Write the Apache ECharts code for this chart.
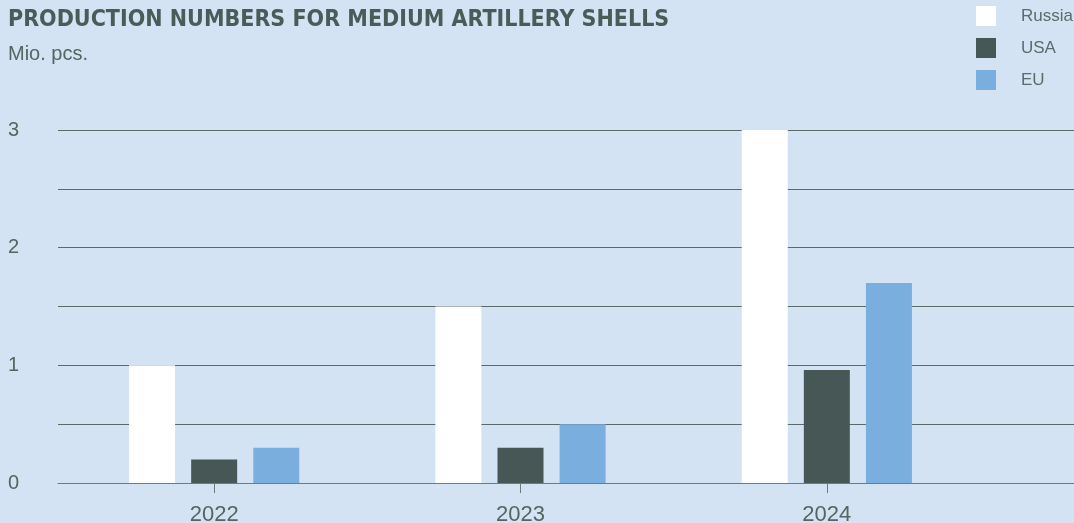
<!DOCTYPE html>
<html><head><meta charset="utf-8">
<script src="https://cdn.jsdelivr.net/npm/echarts@6/dist/echarts.min.js"></script>
<style>html,body{margin:0;padding:0;background:#d3e3f3;}#c{width:1074px;height:523px;}</style>
</head><body><div id="c"></div>
<script>
const categories = ['2022', '2023', '2024'];
const russia = [1.0, 1.5, 3.0];
const usa = [0.2, 0.3, 0.96];
const eu = [0.3, 0.5, 1.7];
const seriesNames = ['Russia', 'USA', 'EU'];
const yTicks = [0, 1, 2, 3];

const TFONT = '"Liberation Sans Narrow", "DejaVu Sans Condensed", "Roboto", sans-serif';
const FONT = '"Liberation Sans", "Roboto", sans-serif';
const chart = echarts.init(document.getElementById('c'));
chart.setOption({
  backgroundColor: '#d3e3f3',
  animation: false,
  title: [
    { text: 'PRODUCTION NUMBERS FOR MEDIUM ARTILLERY SHELLS', left: 8, top: 9, padding: 0,
      textStyle: { fontFamily: TFONT, fontWeight: 'bold', fontSize: 23, color: '#4b5b59' } },
    { text: 'Mio. pcs.', left: 8, top: 44, padding: 0,
      textStyle: { fontFamily: FONT, fontWeight: 'normal', fontSize: 20, color: '#56655f' } }
  ],
  legend: {
    orient: 'vertical', left: 976, top: 6, padding: 0, itemWidth: 20, itemHeight: 20, itemGap: 12,
    icon: 'rect', data: seriesNames,
    textStyle: { fontFamily: FONT, fontSize: 17, color: '#5d6b6a', padding: [2, 0, 0, 20] }
  },
  grid: [
    { left: 61, width: 919, top: 130, bottom: 40, containLabel: false, outerBoundsMode: 'none' },
    { left: 58, right: 0, top: 130, bottom: 40, containLabel: false, outerBoundsMode: 'none' }
  ],
  xAxis: [
    { type: 'category', gridIndex: 0, data: categories,
      axisLine: { show: false },
      axisTick: { show: true, alignWithLabel: true, length: 10, lineStyle: { color: '#6e7d7c', width: 1 } },
      axisLabel: { margin: 21, fontFamily: FONT, fontSize: 22, color: '#56655f' } },
    { type: 'value', gridIndex: 1, min: 0, max: 1, show: true,
      axisLine: { show: true, onZero: false, lineStyle: { color: '#6e7d7c', width: 1 } },
      axisTick: { show: false }, axisLabel: { show: false }, splitLine: { show: false } }
  ],
  yAxis: [
    { type: 'value', gridIndex: 0, min: 0, max: 3, show: false, splitLine: { show: false } },
    { type: 'value', gridIndex: 1, min: 0, max: 3, interval: 0.5,
      axisLine: { show: false }, axisTick: { show: false },
      splitLine: { show: true, lineStyle: { color: '#5a6a69', width: 1 } },
      axisLabel: { margin: 39, fontFamily: FONT, fontSize: 20, color: '#56655f',
        formatter: v => yTicks.includes(v) ? String(v) : '' } }
  ],
  series: [
    { name: seriesNames[0], type: 'bar', xAxisIndex: 0, yAxisIndex: 0, data: russia,
      barWidth: 46, barGap: '35%', itemStyle: { color: '#ffffff' }, z: 3 },
    { name: seriesNames[1], type: 'bar', xAxisIndex: 0, yAxisIndex: 0, data: usa,
      barWidth: 46, barGap: '35%', itemStyle: { color: '#465756' }, z: 3 },
    { name: seriesNames[2], type: 'bar', xAxisIndex: 0, yAxisIndex: 0, data: eu,
      barWidth: 46, barGap: '35%', itemStyle: { color: '#7aaedf' }, z: 3 }
  ]
});
</script></body></html>
